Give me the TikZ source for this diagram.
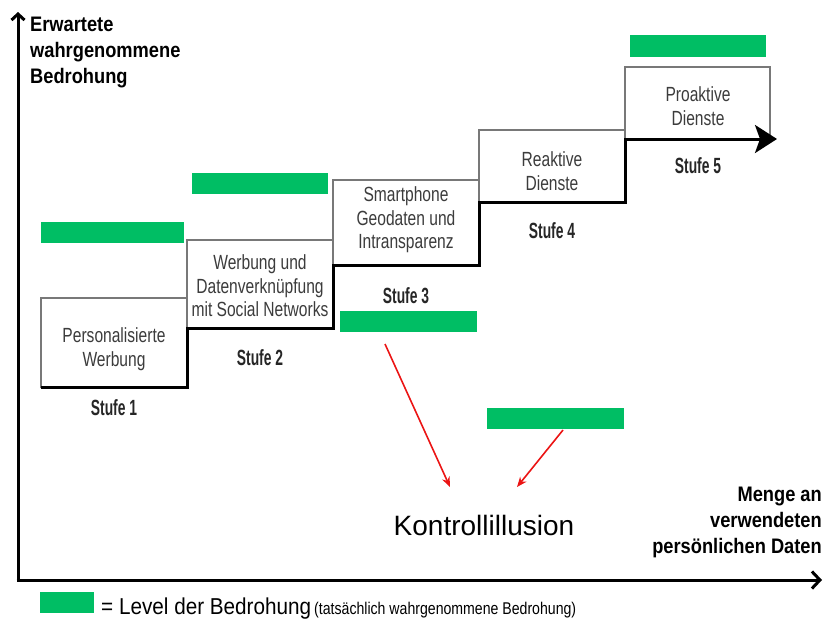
\documentclass[tikz,border=0pt]{standalone}
\usepackage{fontspec}
\setmainfont{Liberation Sans}
\newfontfamily\boxfont[FakeStretch=0.76]{Liberation Sans}
\newfontfamily\stufefont[FakeStretch=0.63]{Liberation Sans}
\newfontfamily\axisfont[FakeStretch=0.87]{Liberation Sans}
\newfontfamily\legfont[FakeStretch=0.9]{Liberation Sans}
\newfontfamily\smallleg[FakeStretch=0.83]{Liberation Sans}
\usetikzlibrary{arrows.meta,calc}
\definecolor{lvlgreen}{RGB}{0,190,100}
\definecolor{boxgray}{RGB}{120,120,120}
\definecolor{boxtextc}{RGB}{60,60,60}
\definecolor{redarr}{RGB}{235,20,20}
\begin{document}
\begin{tikzpicture}[x=1pt,y=-1pt,
 stepbox/.style={draw=boxgray, line width=1.2pt, fill=white, outer sep=0pt, inner sep=0pt, anchor=north west},
 boxtext/.style={align=center, text=boxtextc, font=\boxfont\fontsize{20.5}{23.5}\selectfont, inner sep=0pt},
 stufe/.style={text=black!85, font=\stufefont\bfseries\fontsize{22}{24}\selectfont, inner sep=0pt},
 level/.style={fill=lvlgreen, draw=none, outer sep=0pt, inner sep=0pt, anchor=north west},
 axis/.style={line width=3pt, draw=black},
 stair/.style={line width=3pt, draw=black, line join=miter},
 redarrow/.style={draw=redarr, line width=1.6pt, -{Stealth[length=10pt,width=8pt]}},
 axislabel/.style={font=\axisfont\bfseries\fontsize{21}{26}\selectfont, inner sep=0pt}
]
\useasboundingbox (0,0) rectangle (824,621);

% axes
\coordinate (origin) at (18,580);
\coordinate (ytop) at (18,12);
\coordinate (xend) at (822,580);
\draw[axis, -{Straight Barb[length=6pt,width=13pt]}] (origin) -- (ytop);
\draw[axis, -{Straight Barb[length=8pt,width=17pt]}] (16.5,580) -- (xend);

\node[axislabel, align=left, anchor=north west] (ylab) at (30,17) {Erwartete\\wahrgenommene\\Bedrohung};
\node[axislabel, align=right, anchor=north east] (xlab) at (822,487) {Menge an\\verwendeten\\persönlichen Daten};

% step boxes
\node[stepbox, minimum width=146pt, minimum height=89pt] (b1) at (41,298) {};
\node[stepbox, minimum width=146pt, minimum height=88pt] (b2) at (187,240) {};
\node[stepbox, minimum width=146pt, minimum height=85pt] (b3) at (333,180) {};
\node[stepbox, minimum width=146pt, minimum height=72pt] (b4) at (479,130) {};
\node[stepbox, minimum width=145pt, minimum height=72pt] (b5) at (625,67) {};

\node[boxtext] (t1) at (114,349) {Personalisierte\\Werbung};
\node[boxtext] (t2) at (260,286) {Werbung und\\Datenverknüpfung\\mit Social Networks};
\node[boxtext] (t3) at (406,220) {Smartphone\\Geodaten und\\Intransparenz};
\node[boxtext] (t4) at (552,171) {Reaktive\\Dienste};
\node[boxtext] (t5) at (698,106) {Proaktive\\Dienste};

% staircase
\coordinate (s5end) at (777,139);
\draw[stair, -{Stealth[length=22pt,width=28pt,inset=5pt]}]
  (b1.south west) -- (b1.south east) -- (b2.south west) -- (b2.south east)
  -- (b3.south west) -- (b3.south east) -- (b4.south west) -- (b4.south east)
  -- (b5.south west) -- (s5end);

\node[stufe] (st1) at (114,408) {Stufe 1};
\node[stufe] (st2) at (260,358) {Stufe 2};
\node[stufe] (st3) at (406,296) {Stufe 3};
\node[stufe] (st4) at (552,231) {Stufe 4};
\node[stufe] (st5) at (698,166) {Stufe 5};

% threat level bars
\node[level, minimum width=143pt, minimum height=21pt] (g1) at (41,222) {};
\node[level, minimum width=136pt, minimum height=21pt] (g2) at (192,173) {};
\node[level, minimum width=137pt, minimum height=21pt] (g3) at (340,311) {};
\node[level, minimum width=137pt, minimum height=21pt] (g4) at (487,408) {};
\node[level, minimum width=136pt, minimum height=22pt] (g5) at (630,35) {};

% Kontrollillusion
\node[inner sep=0pt, font=\fontsize{28}{32}\selectfont] (kont) at (484,525) {Kontrollillusion};
\coordinate (a1s) at (385,344);
\coordinate (a1e) at (450,487);
\coordinate (a2s) at (563,430);
\coordinate (a2e) at (517,487);
\draw[redarrow] (a1s) -- (a1e);
\draw[redarrow] (a2s) -- (a2e);

% legend
\node[level, minimum width=54pt, minimum height=21pt] (lg) at (40,592) {};
\node[inner sep=0pt, anchor=base west] (legtxt) at (101,614)
  {\legfont\fontsize{23}{26}\selectfont = Level der Bedrohung\hspace{3pt}{\smallleg\fontsize{17}{20}\selectfont(tatsächlich wahrgenommene Bedrohung)}};
\end{tikzpicture}
\end{document}
